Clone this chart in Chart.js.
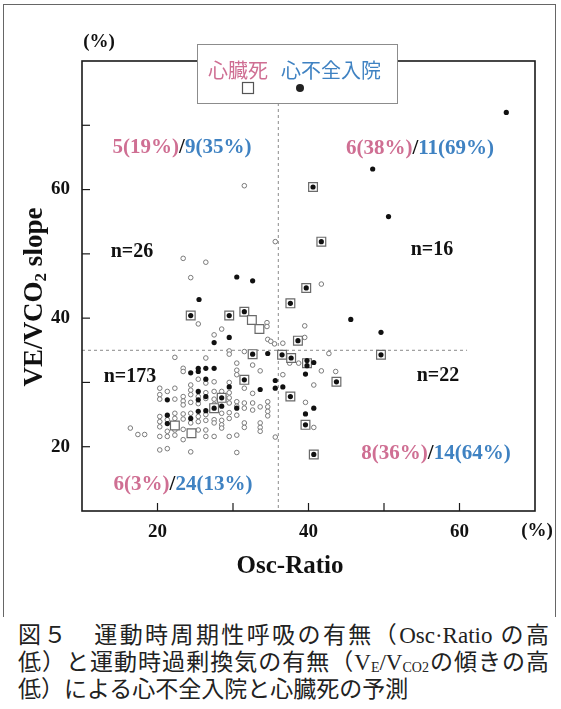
<!DOCTYPE html>
<html>
<head>
<meta charset="utf-8">
<title>Osc-Ratio と VE/VCO2 slope</title>
<script src="https://cdn.jsdelivr.net/npm/chart.js@4.4.1/dist/chart.umd.min.js"></script>
<style>
  body { margin: 0; background: #fff; }
  #wrap { position: relative; width: 561px; height: 709px; overflow: hidden; background: #fff; }
  #frame { position: absolute; left: 3px; top: 4px; width: 551px; height: 612px;
           border: 1px solid #666; border-bottom: none; }
  #myChart { position: absolute; left: 0; top: 0; }
  .cap { position: absolute; left: 18px; width: 531px; height: 27px; line-height: 27px;
         font-size: 23px; font-family: "Liberation Serif", "Noto Sans CJK JP", serif; color: #222; }
  .just { text-align: justify; text-align-last: justify; }
  .cap sub { font-size: 14px; vertical-align: -2px; line-height: 0; }
</style>
</head>
<body>
<div id="wrap">
  <div id="frame"></div>
  <canvas id="myChart" width="561" height="620"></canvas>
  <div class="cap just" style="top:622px">図５　運動時周期性呼吸の有無（Osc·Ratio の高</div>
  <div class="cap just" style="top:649px">低）と運動時過剰換気の有無（V<sub>E</sub>/V<sub>CO2</sub>の傾きの高</div>
  <div class="cap" style="top:676px">低）による心不全入院と心臓死の予測</div>
</div>

<script>
  // patients without any event (open circles)
  const noEventPts = [
    [31.5,60.6],[35.6,51.9],[23.4,49.3],[26.4,48.7],[24.4,46.3],[41.7,45.3],[25.4,39.1],[28.5,38.3],
    [27.5,37.4],[34.5,39.3],[34.5,38.7],[34.6,36.7],[35.0,36.4],[35.5,36.0],[39.5,38.8],[39.5,37.0],[36.6,36.1],
    [37.5,33.0],[38.7,33.0],[42.7,34.5],[41.7,31.8],[36.6,31.2],[43.6,31.7],[40.7,29.6],[39.6,26.9],[40.7,23.0],
    [16.4,22.9],[17.4,21.9],[18.3,21.9],
    [20.3,29.1],[20.3,28.1],[20.3,27.4],[20.3,24.7],[20.3,23.9],[20.3,23.1],[20.3,21.6],[20.3,19.5],
    [21.3,28.6],[21.3,24.2],[21.3,22.4],[21.3,21.6],[21.3,19.7],
    [22.3,33.9],[22.3,29.1],[22.3,27.4],[22.3,25.2],[22.3,24.4],[22.3,22.6],[22.3,21.8],
    [23.4,32.2],[23.4,31.7],[23.4,27.8],[23.4,27.1],[23.4,26.5],[23.4,25.1],[23.4,24.3],[23.4,22.7],[23.4,21.1],
    [24.4,29.6],[24.4,28.8],[24.4,28.1],[24.4,26.9],[24.4,25.2],[24.4,23.7],[24.4,19.2],
    [25.4,30.5],[25.4,27.8],[25.4,26.7],[25.4,24.7],[25.4,23.9],[25.4,22.6],
    [26.4,33.8],[26.4,29.9],[26.4,28.4],[26.4,27.5],[26.4,25.0],[26.4,24.1],[26.4,22.6],[26.4,21.6],
    [27.5,30.1],[27.5,28.6],[27.5,27.4],[27.5,26.6],[27.5,24.2],[27.5,23.7],[27.5,21.6],
    [28.5,28.6],[28.5,25.2],[28.5,24.1],[28.5,23.4],[28.5,22.9],
    [29.5,34.9],[29.5,34.4],[29.5,30.0],[29.5,28.4],[29.5,27.6],[29.5,26.8],[29.5,25.3],[29.5,24.4],[29.5,21.6],
    [30.5,33.0],[30.5,31.9],[30.5,31.2],[30.5,27.0],[30.5,26.3],[30.5,24.9],[30.5,21.8],[30.5,19.1],
    [31.5,34.8],[31.5,29.1],[31.5,26.8],[31.5,26.0],[31.5,23.7],[31.5,23.0],
    [32.6,32.7],[32.6,28.3],[32.6,26.8],[32.6,25.7],
    [33.6,31.8],[33.6,26.2],[33.6,23.7],[33.6,23.0],[33.6,22.4],
    [34.6,27.0],[34.6,26.2],[34.6,25.5],[34.6,24.8],
    [35.6,21.5]
  ];

  // heart failure admission (filled dots)
  const hfPts = [
    [30.5,46.4],[32.6,45.8],[25.5,42.9],[27.5,36.2],[29.5,37.0],[24.4,40.4],[29.5,40.4],[31.5,41.0],
    [48.5,63.2],[50.6,55.8],[45.6,39.8],[49.6,37.8],[66.2,72.0],
    [37.6,42.3],[38.6,36.5],[39.7,44.7],[41.7,51.9],[40.6,60.4],
    [36.5,34.3],[37.7,33.8],[39.8,33.4],[39.8,32.6],[49.6,34.3],[43.7,30.1],[37.6,27.8],[39.6,23.4],[40.7,18.8],
    [40.7,33.1],[39.6,31.3],[36.6,29.3],[40.7,26.0],[39.6,25.1],
    [32.6,34.4],[31.5,30.4],[28.5,27.6],[27.5,26.0],[34.6,34.5],[24.4,31.5],[25.4,32.2],[25.4,31.7],
    [26.4,32.2],[27.5,32.2],[26.4,30.5],[35.6,30.3],[35.6,29.1],[29.5,29.3],[33.6,28.9],[21.3,27.3],
    [25.4,28.6],[25.4,27.3],[26.4,27.8],[28.5,26.3],[30.5,26.0],[21.3,24.9],[21.3,23.6],[24.4,24.4],
    [25.4,25.5],[26.4,25.6]
  ];

  // cardiac death (squares)
  const deathPts = [
    [24.4,40.4],[29.5,40.4],[31.5,41.0],[32.5,39.7],[33.5,38.3],
    [37.6,42.3],[38.6,36.5],[39.7,44.7],[41.7,51.9],[40.6,60.4],
    [36.5,34.3],[37.7,33.8],[39.8,33.0],[49.6,34.3],[43.7,30.1],[37.6,27.8],[39.6,23.4],[40.7,18.8],
    [32.6,34.4],[31.5,30.4],[28.5,27.6],[27.5,26.0],[22.3,23.3],[24.5,22.1]
  ];

  // quadrant summaries: upper-left, upper-right, lower-left, lower-right
  const quadN = ['n=26', 'n=16', 'n=173', 'n=22'];
  const deathRate = ['5(19%)', '6(38%)', '6(3%)', '8(36%)'];
  const hfRate = ['9(35%)', '11(69%)', '24(13%)', '14(64%)'];

  const xLabels = [20, 40, 60];
  const yLabels = [20, 40, 60];
  const oscCut = 36;
  const slopeCut = 35;

  const PINK = '#cf6f93';
  const BLUE = '#3f82c2';
  const SERIF = '"Liberation Serif", "Times New Roman", serif';
  const JP = '"Noto Sans CJK JP", sans-serif';

  const toXY = pts => pts.map(p => ({ x: p[0], y: p[1] }));

  function line(ctx, x1, y1, x2, y2) {
    ctx.beginPath(); ctx.moveTo(x1, y1); ctx.lineTo(x2, y2); ctx.stroke();
  }

  // colored "a/b" text centered on cx
  function rateText(ctx, a, b, cx, cy) {
    ctx.font = 'bold 21px ' + SERIF;
    const wa = ctx.measureText(a).width, ws = ctx.measureText('/').width, wb = ctx.measureText(b).width;
    let x = cx - (wa + ws + wb) / 2;
    ctx.textAlign = 'left'; ctx.textBaseline = 'middle';
    ctx.fillStyle = PINK; ctx.fillText(a, x, cy); x += wa;
    ctx.fillStyle = '#111'; ctx.fillText('/', x, cy); x += ws;
    ctx.fillStyle = BLUE; ctx.fillText(b, x, cy);
  }

  const decor = {
    id: 'decor',
    beforeDatasetsDraw(chart) {
      const ctx = chart.ctx, xs = chart.scales.x, ys = chart.scales.y, a = chart.chartArea;
      ctx.save();
      // cut-off lines
      ctx.strokeStyle = '#8a8a8a'; ctx.lineWidth = 1; ctx.setLineDash([3, 3]);
      const vx = xs.getPixelForValue(oscCut);
      line(ctx, vx, a.top, vx, a.bottom);
      const hy = ys.getPixelForValue(slopeCut);
      line(ctx, a.left, hy, xs.getPixelForValue(61), hy);
      ctx.setLineDash([]);
      // frame and inward ticks
      ctx.strokeStyle = '#1a1a1a'; ctx.lineWidth = 1.6;
      ctx.strokeRect(a.left, a.top, a.right - a.left, a.bottom - a.top);
      ctx.lineWidth = 1.2;
      xs.ticks.forEach(t => {
        if (t.value > xs.min && t.value < xs.max) {
          const px = xs.getPixelForValue(t.value);
          line(ctx, px, a.bottom, px, a.bottom - 8);
        }
      });
      ys.ticks.forEach(t => {
        if (t.value > ys.min && t.value < ys.max) {
          const py = ys.getPixelForValue(t.value);
          line(ctx, a.left, py, a.left + 8, py);
        }
      });
      ctx.restore();
    },
    afterDraw(chart) {
      const ctx = chart.ctx;
      ctx.save();

      // quadrant notes
      const rateAt = [[182, 148], [420, 149], [183, 485], [436, 454]];
      rateAt.forEach((p, i) => rateText(ctx, deathRate[i], hfRate[i], p[0], p[1]));
      const nAt = [[132, 252], [432, 250], [130, 377], [438, 376]];
      ctx.font = 'bold 20px ' + SERIF; ctx.fillStyle = '#111';
      ctx.textAlign = 'center'; ctx.textBaseline = 'middle';
      nAt.forEach((p, i) => ctx.fillText(quadN[i], p[0], p[1]));

      // unit marks
      ctx.font = 'bold 19px ' + SERIF;
      ctx.fillText('(%)', 99, 42);
      ctx.fillText('(%)', 537, 531);

      // x title
      ctx.font = 'bold 25px ' + SERIF;
      ctx.fillText('Osc-Ratio', 290, 567);

      // y title with subscript, rotated
      ctx.translate(35, 297);
      ctx.rotate(-Math.PI / 2);
      const big = 'bold 27px ' + SERIF, small = 'bold 17px ' + SERIF;
      ctx.font = big; const w1 = ctx.measureText('VE/VCO').width;
      ctx.font = small; const w2 = ctx.measureText('2').width;
      ctx.font = big; const w3 = ctx.measureText(' slope').width;
      let x = -(w1 + w2 + w3) / 2;
      ctx.textAlign = 'left';
      ctx.fillText('VE/VCO', x, 0); x += w1;
      ctx.font = small; ctx.fillText('2', x, 7); x += w2;
      ctx.font = big; ctx.fillText(' slope', x, 0);
      ctx.setTransform(1, 0, 0, 1, 0, 0);

      // legend box
      ctx.fillStyle = '#fff'; ctx.strokeStyle = '#8c8c8c'; ctx.lineWidth = 1;
      ctx.fillRect(197, 44, 200, 59);
      ctx.strokeRect(197.5, 44.5, 200, 59);
      ctx.font = '20px ' + JP; ctx.textAlign = 'center'; ctx.textBaseline = 'middle';
      ctx.fillStyle = PINK; ctx.fillText('心臓死', 238, 70);
      ctx.fillStyle = BLUE; ctx.fillText('心不全入院', 331, 70);
      ctx.strokeStyle = '#555'; ctx.lineWidth = 1.2;
      ctx.strokeRect(242.5, 82.5, 11, 11);
      ctx.fillStyle = '#222';
      ctx.beginPath(); ctx.arc(300, 88, 4, 0, Math.PI * 2); ctx.fill();
      ctx.restore();
    }
  };

  new Chart(document.getElementById('myChart'), {
    type: 'scatter',
    data: {
      datasets: [
        { label: '心不全入院', data: toXY(hfPts), pointStyle: 'circle', pointRadius: 2.6,
          backgroundColor: '#111', borderColor: '#111', borderWidth: 0, order: 0 },
        { label: '心臓死', data: toXY(deathPts), pointStyle: 'rect', pointRadius: 6.2,
          backgroundColor: '#fff', borderColor: '#6a6a6a', borderWidth: 1.2, order: 1 },
        { label: 'イベントなし', data: toXY(noEventPts), pointStyle: 'circle', pointRadius: 2.3,
          backgroundColor: '#fff', borderColor: '#7a7a7a', borderWidth: 1, order: 2 }
      ]
    },
    options: {
      responsive: false,
      animation: false,
      devicePixelRatio: 1,
      layout: { padding: { left: 0, right: 26, top: 61, bottom: 0 } },
      plugins: { legend: { display: false }, tooltip: { enabled: false } },
      scales: {
        x: {
          type: 'linear', min: 10, max: 70,
          afterFit: s => { s.height = 109; },
          grid: { display: false, drawTicks: false },
          border: { display: false },
          ticks: {
            stepSize: 10, autoSkip: false, padding: 10, color: '#111',
            font: { family: SERIF, weight: 'bold', size: 19 },
            callback: v => xLabels.includes(v) ? v : ''
          }
        },
        y: {
          type: 'linear', min: 10, max: 80,
          afterFit: s => { s.width = 82; },
          grid: { display: false, drawTicks: false },
          border: { display: false },
          ticks: {
            stepSize: 10, autoSkip: false, padding: 12, color: '#111',
            font: { family: SERIF, weight: 'bold', size: 19 },
            callback: v => yLabels.includes(v) ? v : ''
          }
        }
      }
    },
    plugins: [decor]
  });
</script>
</body>
</html>
